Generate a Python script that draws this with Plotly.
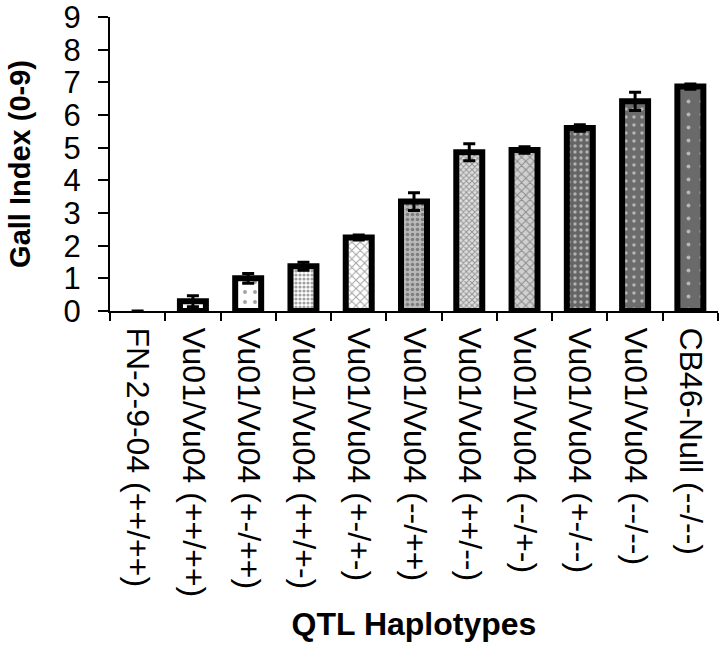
import plotly.graph_objects as go

categories = [
    "FN-2-9-04 (++/++)",
    "Vu01/Vu04 (++/++)",
    "Vu01/Vu04 (+-/++)",
    "Vu01/Vu04 (++/+-)",
    "Vu01/Vu04 (+-/+-)",
    "Vu01/Vu04 (--/++)",
    "Vu01/Vu04 (++/--)",
    "Vu01/Vu04 (--/+-)",
    "Vu01/Vu04 (+-/--)",
    "Vu01/Vu04 (--/--)",
    "CB46-Null (--/--)",
]
gall_index = [0, 0.30, 1.00, 1.37, 2.25, 3.35, 4.86, 4.93, 5.60, 6.42, 6.87]
std_err = [0, 0.17, 0.15, 0.12, 0.08, 0.27, 0.26, 0.10, 0.10, 0.28, 0.08]
y_ticks = [0, 1, 2, 3, 4, 5, 6, 7, 8, 9]

pat_shape = ["", "", ".", ".", "x", ".", "x", "x", ".", ".", "."]
pat_bg = ["white", "white", "white", "white", "white", "#b8b8b8", "#e0e0e0",
          "#d0d0d0", "#656565", "#6c6c6c", "#6a6a6a"]
pat_fg = ["black", "black", "#555555", "#444444", "#333333", "white", "#111111",
          "#333333", "white", "#eeeeee", "#eeeeee"]
pat_size = [8, 8, 10, 4, 6, 5, 4, 6, 6, 8, 13]
pat_sol = [0.2, 0.2, 0.12, 0.5, 0.3, 0.4, 0.45, 0.3, 0.25, 0.15, 0.07]
border_w = [0, 6, 6, 6, 6, 6, 6, 6, 6, 6, 6]

font_family = "Liberation Sans, Arial, sans-serif"

fig = go.Figure(
    go.Bar(
        x=categories,
        y=gall_index,
        width=0.47,
        marker=dict(
            color=pat_bg,
            line=dict(color="black", width=border_w),
            pattern=dict(
                shape=pat_shape,
                bgcolor=pat_bg,
                fgcolor=pat_fg,
                size=pat_size,
                solidity=pat_sol,
            ),
        ),
        error_y=dict(type="data", array=std_err, color="black", thickness=3, width=6),
    )
)

fig.update_layout(
    width=725,
    height=648,
    margin=dict(l=110, r=7, t=17, b=337, autoexpand=False),
    paper_bgcolor="white",
    plot_bgcolor="white",
    showlegend=False,
    font=dict(family=font_family, color="black"),
    xaxis=dict(
        type="category",
        tickson="boundaries",
        ticks="outside",
        ticklen=8,
        tickwidth=2,
        tickcolor="black",
        showline=True,
        linecolor="black",
        linewidth=2,
        tickangle=90,
        ticklabelstandoff=8,
        ticklabeloverflow="allow",
        tickfont=dict(size=32, family=font_family, color="black"),
        title=dict(text="<b>QTL Haplotypes</b>", font=dict(size=32, family=font_family), standoff=16),
        automargin=False,
        showgrid=False,
    ),
    yaxis=dict(
        range=[0, 9],
        tickvals=y_ticks,
        ticks="outside",
        ticklen=10,
        tickwidth=2,
        tickcolor="black",
        showline=True,
        linecolor="black",
        linewidth=2,
        ticklabelstandoff=11,
        ticklabeloverflow="allow",
        tickfont=dict(size=31, family=font_family, color="black"),
        title=dict(text="<b>Gall Index (0-9)</b>", font=dict(size=29, family=font_family), standoff=24),
        automargin=False,
        showgrid=False,
        zeroline=False,
    ),
)

# remove the page's default body margin so the figure sits at the window origin
fig.write_html(
    "out.html",
    config={"displayModeBar": False},
    post_script="document.body.style.margin='0';",
)
